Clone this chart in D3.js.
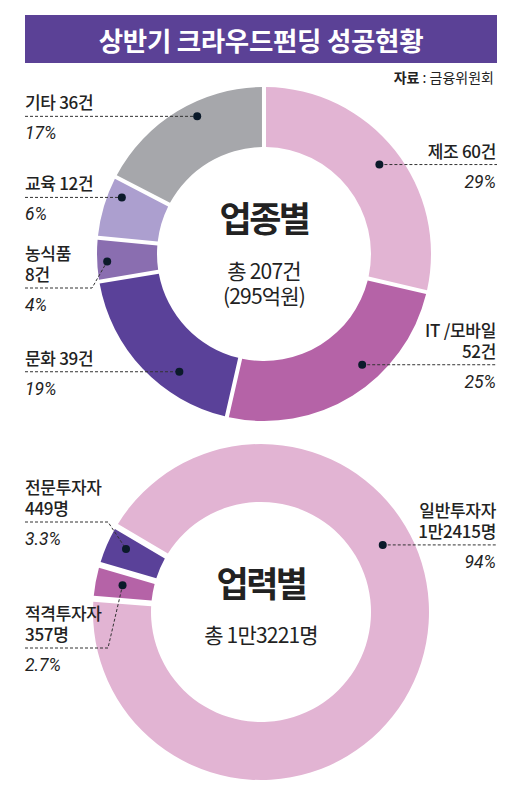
<!DOCTYPE html>
<html>
<head>
<meta charset="utf-8">
<script src="https://cdn.jsdelivr.net/npm/d3@7"></script>
<style>
  body { margin: 0; background: #fff; }
  text { font-family: "Noto Sans CJK KR", "Noto Sans", sans-serif; fill: #222; }
  .pct { font-family: Roboto, "Liberation Sans", sans-serif; font-style: italic; }
</style>
</head>
<body>
<svg id="chart"></svg>
<script>
// ---- data: 업종별 (by sector) ----
const sectorNames = ["제조", "IT /모바일", "문화", "농식품", "교육", "기타"];
const sectorCounts = [60, 52, 39, 8, 12, 36];
const sectorPct = ["29%", "25%", "19%", "4%", "6%", "17%"];
const sectorTotal = ["총 207건", "(295억원)"];

// ---- data: 업력별 (by investor type) ----
const investorNames = ["적격투자자", "전문투자자", "일반투자자"];
const investorCounts = [357, 449, 12415];
const investorCountText = ["357명", "449명", "1만2415명"];
const investorPct = ["2.7%", "3.3%", "94%"];
const investorTotal = ["총 1만3221명"];

// colours
const sectorColors = ["#e2b4d3", "#b563a7", "#5a4199", "#8a6eb0", "#ac9fcf", "#a6a7ab"];
const investorColors = ["#b563a7", "#5a4199", "#e2b4d3"];

// where the dot sits inside each slice (fraction of the slice angle + radius),
// which side the label goes, and an optional bent leader
const sectorLayout = [
  {frac: 0.506, r: 146, side: "right", twoLine: false},
  {frac: 0.393, r: 148, side: "right", twoLine: true},
  {frac: 0.338, r: 145, side: "left", twoLine: false},
  {frac: 0.452, r: 157, side: "left", twoLine: true, lineY: 288, bendX: 92},
  {frac: 0.737, r: 153, side: "left", twoLine: false},
  {frac: 0.586, r: 153, side: "left", twoLine: false}
];
const investorLayout = [
  {frac: 0.54, r: 141, side: "left", lineY: 648, bendX: 108},
  {frac: 0.61, r: 149, side: "left", lineY: 522, bendX: 108},
  {frac: 0.361, r: 139, side: "right"}
];

const W = 520, H = 800;
const leftX = 25, rightX = 496;

const svg = d3.select("#chart").attr("width", W).attr("height", H);

// title bar
svg.append("rect")
  .attr("x", 25).attr("y", 15)
  .attr("width", 472).attr("height", 48)
  .attr("fill", "#5b4196");
svg.append("text")
  .attr("x", 261).attr("y", 51)
  .attr("text-anchor", "middle")
  .style("fill", "#fff")
  .style("font-size", "26.5px")
  .style("font-weight", 700)
  .style("letter-spacing", "-0.3px")
  .text("상반기 크라우드펀딩 성공현황");

// source
const src = svg.append("text")
  .attr("x", 494).attr("y", 83)
  .attr("text-anchor", "end")
  .style("font-size", "14px");
src.append("tspan").style("font-weight", 700).text("자료");
src.append("tspan").text(" : 금융위원회");

// draws one donut with its labels
function drawDonut(opt) {
  const g = svg.append("g").attr("transform", `translate(${opt.cx},${opt.cy})`);

  const pie = d3.pie()
    .sort(null)
    .value(d => d)
    .startAngle(opt.startAngle)
    .endAngle(opt.startAngle + 2 * Math.PI)
    .padAngle(opt.pad);

  const arc = d3.arc()
    .innerRadius(opt.inner)
    .outerRadius(opt.outer)
    .padRadius(150);

  const arcs = pie(opt.values);

  g.selectAll("path")
    .data(arcs)
    .enter()
    .append("path")
    .attr("d", arc)
    .attr("fill", (d, i) => opt.colors[i]);

  // dot position for each slice
  const dots = arcs.map((d, i) => {
    const L = opt.layout[i];
    const a = d.startAngle + L.frac * (d.endAngle - d.startAngle);
    return {x: opt.cx + L.r * Math.sin(a), y: opt.cy - L.r * Math.cos(a)};
  });

  dots.forEach((p, i) => {
    const L = opt.layout[i];
    const lineY = L.lineY !== undefined ? L.lineY : p.y;
    let pts;
    if (L.side === "left") {
      pts = L.bendX !== undefined
        ? [[leftX, lineY], [L.bendX, lineY], [p.x, p.y]]
        : [[leftX, lineY], [p.x, lineY]];
    } else {
      pts = [[p.x, lineY], [rightX + 1, lineY]];
    }
    svg.append("path")
      .attr("d", d3.line()(pts))
      .attr("fill", "none")
      .attr("stroke", "#333")
      .attr("stroke-width", 1)
      .attr("stroke-dasharray", "3,2");

    // label lines (name / count) in one text, percentage under the leader
    const lines = opt.labelLines(i);
    const x = L.side === "left" ? leftX : rightX;
    const anchor = L.side === "left" ? "start" : "end";
    const label = svg.append("text")
      .attr("text-anchor", anchor)
      .style("font-size", "17px")
      .style("font-weight", 500)
      .style("letter-spacing", "-0.3px");
    lines.forEach((t, k) => {
      label.append("tspan")
        .attr("x", x)
        .attr("y", lineY - 7 - (lines.length - 1 - k) * 21)
        .text(t);
    });
    svg.append("text")
      .attr("class", "pct")
      .attr("x", x)
      .attr("y", lineY + 23)
      .attr("text-anchor", anchor)
      .style("font-size", "17.5px")
      .text(opt.pct[i]);
  });

  // dots on top of lines
  svg.selectAll(null)
    .data(dots)
    .enter()
    .append("circle")
    .attr("cx", d => d.x)
    .attr("cy", d => d.y)
    .attr("r", 4)
    .attr("fill", "#0b1a2a");

  // centre text
  g.append("text")
    .attr("y", opt.titleY)
    .attr("text-anchor", "middle")
    .style("font-size", "35px")
    .style("font-weight", 700)
    .style("letter-spacing", "-2.5px")
    .text(opt.title);
  const tot = g.append("text")
    .attr("text-anchor", "middle")
    .style("font-size", "21px")
    .style("letter-spacing", "-0.8px");
  opt.total.forEach((t, k) => {
    tot.append("tspan")
      .attr("x", 0)
      .attr("y", opt.totalY + k * 25)
      .text(t);
  });
}

drawDonut({
  cx: 264, cy: 254, inner: 107, outer: 167,
  startAngle: 0, pad: 0.027,
  values: sectorCounts, colors: sectorColors, layout: sectorLayout,
  pct: sectorPct,
  labelLines: i => sectorLayout[i].twoLine
    ? [sectorNames[i], sectorCounts[i] + "건"]
    : [sectorNames[i] + " " + sectorCounts[i] + "건"],
  title: "업종별", titleY: -22,
  total: sectorTotal, totalY: 25
});

drawDonut({
  cx: 261, cy: 612, inner: 110, outer: 168,
  startAngle: 274.5 * Math.PI / 180, pad: 0.04,
  values: investorCounts, colors: investorColors, layout: investorLayout,
  pct: investorPct,
  labelLines: i => [investorNames[i], investorCountText[i]],
  title: "업력별", titleY: -15,
  total: investorTotal, totalY: 31
});
</script>
</body>
</html>
